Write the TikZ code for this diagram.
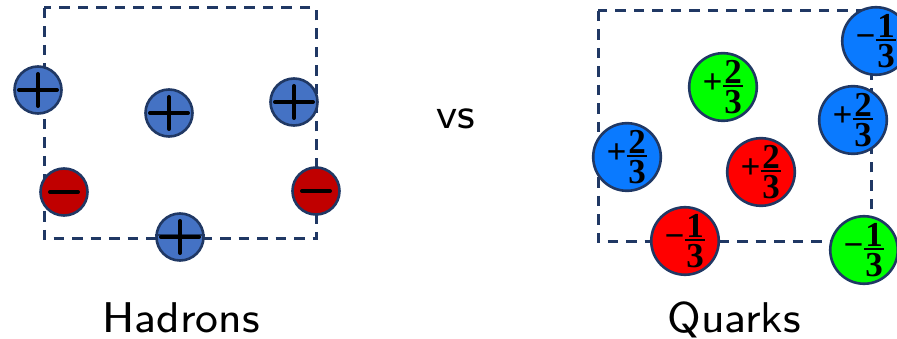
\documentclass[tikz,border=0pt]{standalone}
\usepackage{fontspec}
\usepackage{graphicx}
\newfontfamily\qfont{Liberation Serif}
\IfFontExistsTF{lmsans8-regular.otf}
  {\newfontfamily\capfont{lmsans8-regular.otf}}
  {\newcommand{\capfont}{\sffamily}}
\definecolor{navy}{HTML}{203864}
\definecolor{hblue}{HTML}{4472C4}
\definecolor{hred}{HTML}{C00000}
\definecolor{qblue}{HTML}{0A7AFF}
\definecolor{qgreen}{HTML}{00FF00}
\definecolor{qred}{HTML}{FF0000}
\tikzset{
  frame/.style={draw=navy, line width=3pt, dash pattern=on 10.5pt off 8pt},
  hadron/.style={circle, draw=navy, line width=2.6pt, minimum size=47pt, inner sep=0pt, fill=#1},
  quark/.style={circle, draw=navy, line width=2.6pt, minimum size=66pt, inner sep=0pt, fill=#1,
    font=\qfont\bfseries\fontsize{35}{37}\selectfont},
  sign/.style={line width=4pt, line cap=round, black},
  caption/.style={font=\capfont\fontsize{43}{48}\selectfont, anchor=base, inner sep=0pt},
}
% sign followed by a stacked fraction, centred on the math axis
\newcommand{\qfrac}[3]{#1\kern0.5pt$\vcenter{\offinterlineskip
  \halign{\hfil\kern1.5pt##\kern1.5pt\hfil\cr #2\cr
    \noalign{\kern1.5pt\hrule height 2.2pt\kern3.5pt}
    #3\cr}}$}
\newcommand{\plussign}[1]{%
  \draw[sign] ([xshift=-19pt]#1.center) -- ([xshift=19pt]#1.center);
  \draw[sign] ([yshift=16pt]#1.center) -- ([yshift=-16pt]#1.center);}
\newcommand{\minussign}[1]{%
  \draw[sign] ([xshift=-14pt]#1.center) -- ([xshift=14pt]#1.center);}
\begin{document}
\begin{tikzpicture}[x=1pt, y=-1pt]
\useasboundingbox (0,0) rectangle (897,339);

% hadron side
\coordinate (hA) at (44,8);
\coordinate (hB) at (316,239);
\draw[frame] (hA) rectangle (hB);
\node[hadron=hblue] (p1) at (38,90) {};
\node[hadron=hblue] (p2) at (169,113) {};
\node[hadron=hblue] (p3) at (294,102) {};
\node[hadron=hred]  (n1) at (64,192) {};
\node[hadron=hred]  (n2) at (316,191) {};
\node[hadron=hblue] (p4) at (180,237) {};
\draw[navy, line width=2.6pt] ([yshift=2pt]p4.west) -- ([yshift=2pt]p4.east);
\plussign{p1}
\plussign{p2}
\plussign{p3}
\plussign{p4}
\minussign{n1}
\minussign{n2}
\node[caption] (hadrons) at (181,332) {Hadrons};

\node[caption] (vs) at (456,129) {vs};

% quark side
\coordinate (qA) at (598,11);
\coordinate (qB) at (871,242);
\draw[frame] (qA) rectangle (qB);
\node[quark=qblue]  (q1) at (876,41)  {\qfrac{−}{1}{3}};
\node[quark=qgreen] (q2) at (723,87)  {\qfrac{+}{2}{3}};
\node[quark=qblue]  (q3) at (853,120) {\qfrac{+}{2}{3}};
\node[quark=qblue]  (q4) at (627,157) {\qfrac{+}{2}{3}};
\node[quark=qred]   (q5) at (761,172) {\qfrac{+}{2}{3}};
\node[quark=qred]   (q6) at (685,241) {\qfrac{−}{1}{3}};
\node[quark=qgreen] (q7) at (864,250) {\qfrac{−}{1}{3}};
\node[caption] (quarks) at (734,332) {Quarks};
\end{tikzpicture}
\end{document}
